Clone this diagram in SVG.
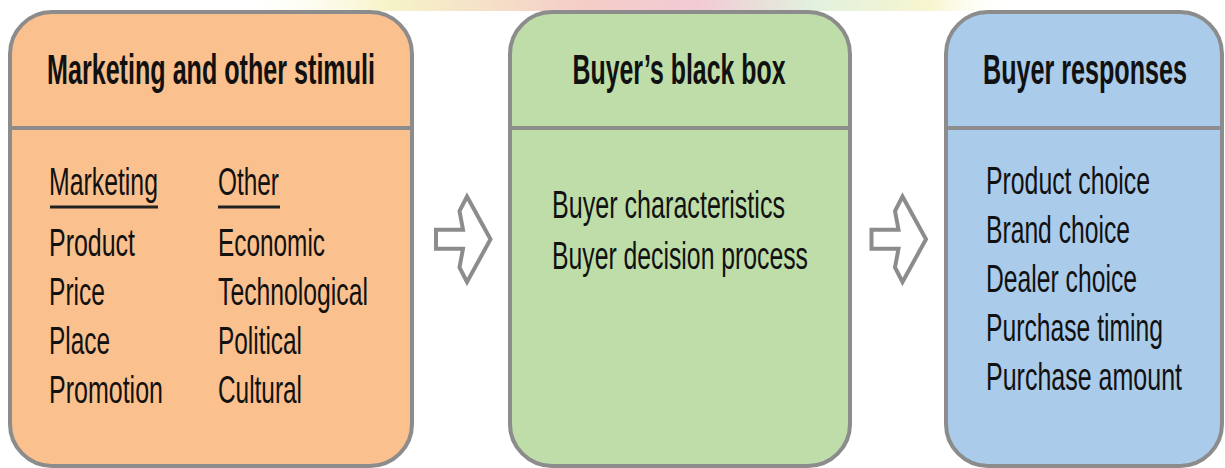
<svg xmlns="http://www.w3.org/2000/svg" width="1225" height="468" viewBox="0 0 1225 468">
  <defs>
    <linearGradient id="topBand" x1="0" y1="0" x2="1" y2="0">
      <stop offset="0" stop-color="#ffffff" stop-opacity="0"/>
      <stop offset="0.2" stop-color="#f3efb0" stop-opacity="0.7"/>
      <stop offset="0.45" stop-color="#f0b8b0" stop-opacity="0.7"/>
      <stop offset="0.6" stop-color="#e8a8b8" stop-opacity="0.6"/>
      <stop offset="0.75" stop-color="#cfe8c8" stop-opacity="0.6"/>
      <stop offset="0.9" stop-color="#f3efb0" stop-opacity="0.6"/>
      <stop offset="1" stop-color="#ffffff" stop-opacity="0"/>
    </linearGradient>
  </defs>
  <style>
    .box { stroke: #8c8c8c; stroke-width: 4; }
    .divider { stroke: #8c8c8c; stroke-width: 4; }
    .head { font-family: "Liberation Sans", Arial, sans-serif; font-weight: bold; font-size: 43px; fill: #111; text-anchor: middle; }
    .body { font-family: "Liberation Sans", Arial, sans-serif; font-size: 39px; fill: #111; }
    .rule { stroke: #222; stroke-width: 3; }
    .arrow { fill: #ffffff; stroke: #8c8c8c; stroke-width: 4; stroke-linejoin: miter; }
  </style>

  <rect width="1225" height="468" fill="#ffffff"/>
  <!-- faint coloured band along the top edge -->
  <rect x="230" y="0" width="780" height="11" fill="url(#topBand)"/>

  <!-- Stimuli box (condensed type: horizontal scale on each label) -->
  <g id="stimuli">
    <rect class="box" x="10" y="12" width="402" height="454" rx="42" ry="42" fill="#fac08e"/>
    <line class="divider" x1="10" y1="128" x2="412" y2="128"/>
    <text class="head" transform="translate(211,84) scale(0.58,1)" textLength="565.5" lengthAdjust="spacingAndGlyphs">Marketing and other stimuli</text>
    <text class="body" transform="translate(49,195) scale(0.64,1)" textLength="170.3" lengthAdjust="spacingAndGlyphs">Marketing</text>
    <line class="rule" x1="50" y1="207" x2="158" y2="207"/>
    <text class="body" transform="translate(218,195) scale(0.64,1)" textLength="95.3" lengthAdjust="spacingAndGlyphs">Other</text>
    <line class="rule" x1="218" y1="207" x2="280" y2="207"/>
    <text class="body" transform="translate(49,256) scale(0.64,1)" textLength="134.4" lengthAdjust="spacingAndGlyphs">Product</text>
    <text class="body" transform="translate(49,305) scale(0.64,1)" textLength="87.5" lengthAdjust="spacingAndGlyphs">Price</text>
    <text class="body" transform="translate(49,354) scale(0.64,1)" textLength="95.3" lengthAdjust="spacingAndGlyphs">Place</text>
    <text class="body" transform="translate(49,403) scale(0.64,1)" textLength="178.1" lengthAdjust="spacingAndGlyphs">Promotion</text>
    <text class="body" transform="translate(218,256) scale(0.64,1)" textLength="167.2" lengthAdjust="spacingAndGlyphs">Economic</text>
    <text class="body" transform="translate(218,305) scale(0.64,1)" textLength="234.4" lengthAdjust="spacingAndGlyphs">Technological</text>
    <text class="body" transform="translate(218,354) scale(0.64,1)" textLength="131.3" lengthAdjust="spacingAndGlyphs">Political</text>
    <text class="body" transform="translate(218,403) scale(0.64,1)" textLength="131.3" lengthAdjust="spacingAndGlyphs">Cultural</text>
  </g>

  <!-- Black box -->
  <g id="black-box">
    <rect class="box" x="510" y="12" width="340" height="454" rx="42" ry="42" fill="#bedda8"/>
    <line class="divider" x1="510" y1="128" x2="850" y2="128"/>
    <text class="head" transform="translate(679,84) scale(0.58,1)" textLength="367.2" lengthAdjust="spacingAndGlyphs">Buyer’s black box</text>
    <text class="body" transform="translate(552,218) scale(0.64,1)" textLength="364.1" lengthAdjust="spacingAndGlyphs">Buyer characteristics</text>
    <text class="body" transform="translate(552,269) scale(0.64,1)" textLength="400" lengthAdjust="spacingAndGlyphs">Buyer decision process</text>
  </g>

  <!-- Responses box -->
  <g id="responses">
    <rect class="box" x="946" y="12" width="276" height="454" rx="42" ry="42" fill="#aacbea"/>
    <line class="divider" x1="946" y1="128" x2="1222" y2="128"/>
    <text class="head" transform="translate(1085,84) scale(0.58,1)" textLength="351.7" lengthAdjust="spacingAndGlyphs">Buyer responses</text>
    <text class="body" transform="translate(986,194) scale(0.64,1)" textLength="256.3" lengthAdjust="spacingAndGlyphs">Product choice</text>
    <text class="body" transform="translate(986,243) scale(0.64,1)" textLength="225" lengthAdjust="spacingAndGlyphs">Brand choice</text>
    <text class="body" transform="translate(986,292) scale(0.64,1)" textLength="235.9" lengthAdjust="spacingAndGlyphs">Dealer choice</text>
    <text class="body" transform="translate(986,341) scale(0.64,1)" textLength="276.6" lengthAdjust="spacingAndGlyphs">Purchase timing</text>
    <text class="body" transform="translate(986,390) scale(0.64,1)" textLength="306.3" lengthAdjust="spacingAndGlyphs">Purchase amount</text>
  </g>

  <!-- Outline arrows between the boxes -->
  <g id="connectors">
    <path class="arrow" d="M436,229.7 H463 L459.5,211 L467,196.5 L490.5,239.2 L467,282 L459.5,267.5 L463,248.7 H436 Z"/>
    <path class="arrow" transform="translate(435.5,0)" d="M436,229.7 H463 L459.5,211 L467,196.5 L490.5,239.2 L467,282 L459.5,267.5 L463,248.7 H436 Z"/>
  </g>
</svg>
